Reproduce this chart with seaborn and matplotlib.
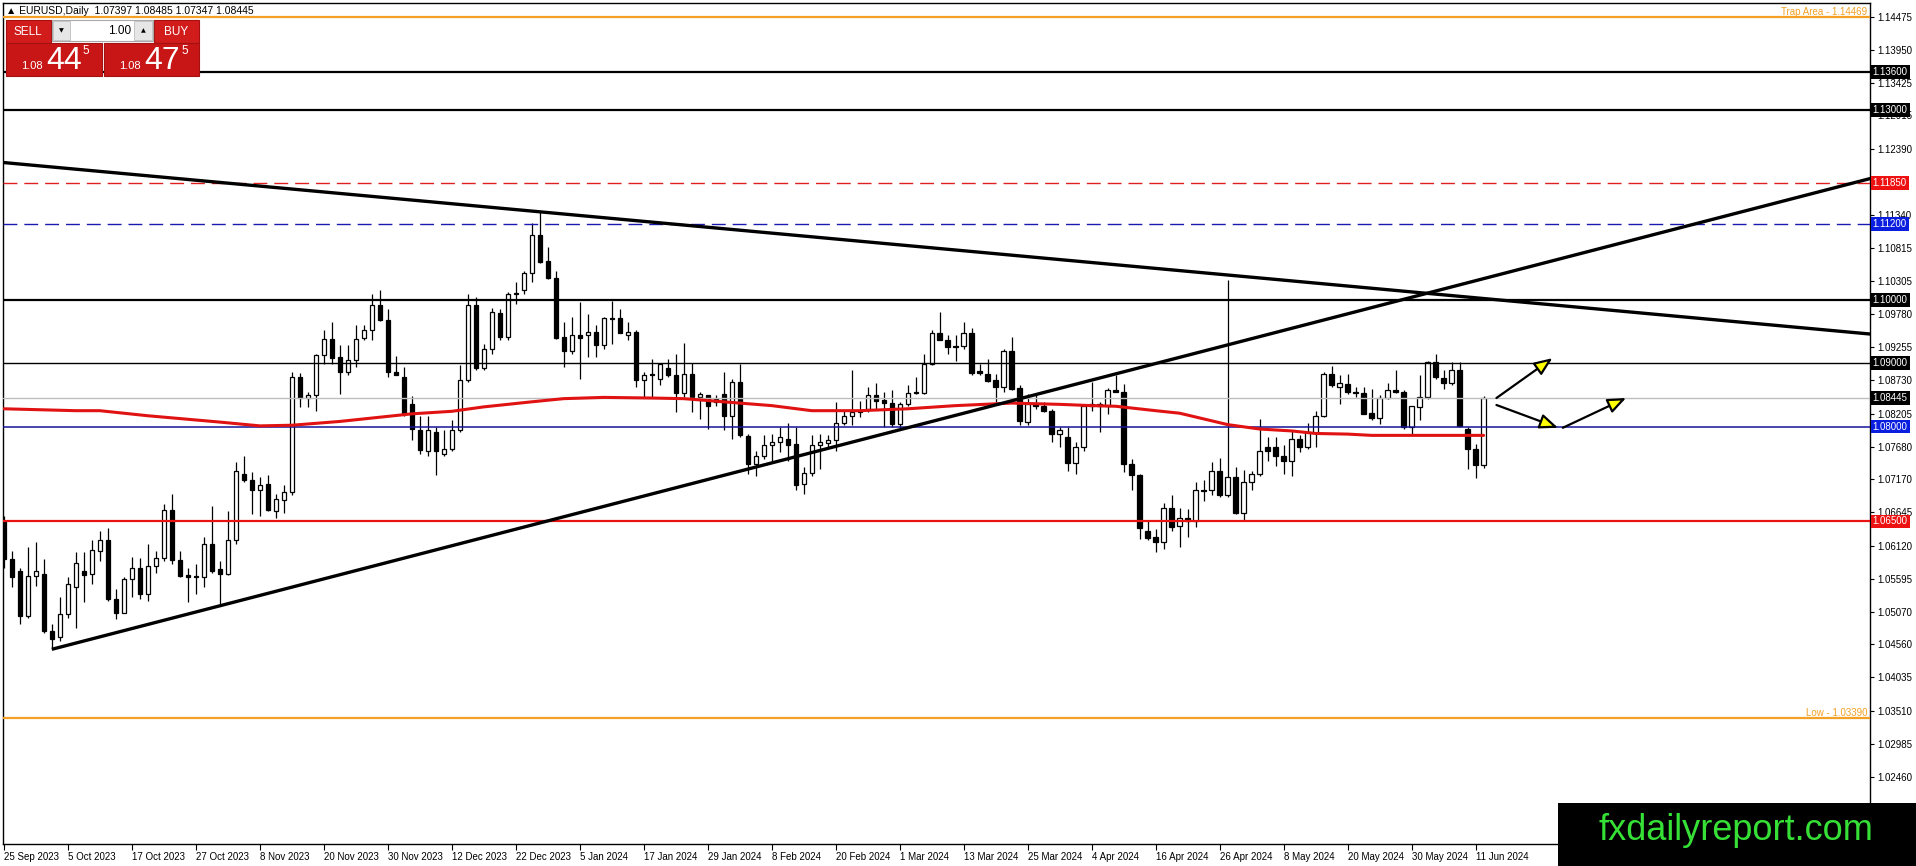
import numpy as np
import pandas as pd
import matplotlib
matplotlib.use("Agg")
import matplotlib.pyplot as plt
import matplotlib.transforms as mtrans
from matplotlib.patches import Rectangle
import seaborn as sns

sns.set_style("white")
plt.rcParams['font.family'] = ['Liberation Sans', 'DejaVu Sans']

# daily candles (25 Sep 2023 .. 12 Jun 2024)
opens = [1.0651, 1.0591, 1.0572, 1.0501, 1.0564, 1.0567, 1.0477, 1.0467, 1.0503, 1.0546,
         1.0572, 1.0567, 1.0604, 1.0620, 1.0527, 1.0506, 1.0559, 1.0577, 1.0535, 1.0580,
         1.0592, 1.0668, 1.0589, 1.0566, 1.0562, 1.0562, 1.0614, 1.0575, 1.0567, 1.0620,
         1.0725, 1.0716, 1.0699, 1.0709, 1.0667, 1.0684, 1.0696, 1.0878, 1.0845, 1.0850,
         1.0913, 1.0939, 1.0910, 1.0886, 1.0905, 1.0940, 1.0953, 1.0992, 1.0969, 1.0886,
         1.0879, 1.0835, 1.0795, 1.0762, 1.0792, 1.0757, 1.0765, 1.0794, 1.0873, 1.0992,
         1.0893, 1.0923, 1.0979, 1.0941, 1.1011, 1.1015, 1.1042, 1.1103, 1.1061, 1.1035,
         1.0941, 1.0920, 1.0944, 1.0944, 1.0950, 1.0929, 1.0972, 1.0971, 1.0945, 1.0950,
         1.0874, 1.0883, 1.0875, 1.0893, 1.0882, 1.0853, 1.0883, 1.0846, 1.0849, 1.0843,
         1.0852, 1.0817, 1.0871, 1.0785, 1.0740, 1.0753, 1.0771, 1.0775, 1.0780, 1.0772,
         1.0709, 1.0726, 1.0771, 1.0774, 1.0778, 1.0805, 1.0817, 1.0825, 1.0828, 1.0849,
         1.0842, 1.0837, 1.0804, 1.0836, 1.0855, 1.0853, 1.0898, 1.0947, 1.0936, 1.0927,
         1.0927, 1.0948, 1.0887, 1.0883, 1.0873, 1.0863, 1.0920, 1.0861, 1.0807, 1.0836,
         1.0832, 1.0825, 1.0788, 1.0783, 1.0742, 1.0767, 1.0835, 1.0835, 1.0832, 1.0858,
         1.0855, 1.0741, 1.0724, 1.0635, 1.0626, 1.0617, 1.0671, 1.0643, 1.0655, 1.0651,
         1.0700, 1.0699, 1.0729, 1.0691, 1.0720, 1.0664, 1.0712, 1.0725, 1.0767, 1.0768,
         1.0754, 1.0746, 1.0780, 1.0768, 1.0789, 1.0817, 1.0883, 1.0863, 1.0867, 1.0855,
         1.0853, 1.0821, 1.0814, 1.0845, 1.0857, 1.0855, 1.0799, 1.0831, 1.0847, 1.0902,
         1.0876, 1.0869, 1.0889, 1.0796, 1.0764, 1.07397]
highs = [1.0659, 1.0604, 1.0577, 1.0609, 1.0617, 1.0591, 1.0488, 1.0530, 1.0562, 1.0601,
         1.0601, 1.0620, 1.0635, 1.0639, 1.0543, 1.0563, 1.0594, 1.0593, 1.0614, 1.0604,
         1.0678, 1.0693, 1.0604, 1.0577, 1.0583, 1.0625, 1.0675, 1.0588, 1.0667, 1.0744,
         1.0754, 1.0728, 1.0720, 1.0724, 1.0693, 1.0707, 1.0886, 1.0884, 1.0854, 1.0915,
         1.0953, 1.0965, 1.0928, 1.0928, 1.0960, 1.0960, 1.1010, 1.1016, 1.0986, 1.0912,
         1.0894, 1.0848, 1.0817, 1.0817, 1.0799, 1.0794, 1.0810, 1.0897, 1.1010, 1.1005,
         1.0931, 1.0988, 1.0986, 1.1013, 1.1029, 1.1046, 1.1122, 1.1139, 1.1084, 1.1046,
         1.0965, 1.0973, 1.0997, 1.0978, 1.0960, 1.0973, 1.0999, 1.0986, 1.0965, 1.0952,
         1.0886, 1.0907, 1.0899, 1.0907, 1.0914, 1.0932, 1.0900, 1.0854, 1.0849, 1.0849,
         1.0886, 1.0875, 1.0899, 1.0788, 1.0762, 1.0786, 1.0788, 1.0799, 1.0805, 1.0799,
         1.0736, 1.0786, 1.0788, 1.0786, 1.0839, 1.0825, 1.0889, 1.0841, 1.0862, 1.0868,
         1.0855, 1.0857, 1.0839, 1.0865, 1.0878, 1.0914, 1.0952, 1.0981, 1.0944, 1.0944,
         1.0965, 1.0955, 1.0899, 1.0906, 1.0883, 1.0923, 1.0942, 1.0865, 1.0852, 1.0849,
         1.0839, 1.0828, 1.0799, 1.0799, 1.0775, 1.0836, 1.0870, 1.0839, 1.0861, 1.0881,
         1.0867, 1.0749, 1.0725, 1.0651, 1.0638, 1.0679, 1.0691, 1.0671, 1.0670, 1.0712,
         1.0715, 1.0744, 1.0751, 1.1031, 1.0736, 1.0731, 1.0730, 1.0812, 1.0783, 1.0783,
         1.0770, 1.0794, 1.0786, 1.0805, 1.0825, 1.0886, 1.0895, 1.0881, 1.0883, 1.0862,
         1.0862, 1.0860, 1.0849, 1.0869, 1.0889, 1.0857, 1.0833, 1.0881, 1.0904, 1.0914,
         1.0889, 1.0902, 1.0902, 1.0799, 1.0773, 1.08485]
lows = [1.0577, 1.0546, 1.0488, 1.0498, 1.0548, 1.0474, 1.0448, 1.0461, 1.0498, 1.0482,
        1.0522, 1.0551, 1.0588, 1.0525, 1.0496, 1.0505, 1.0530, 1.0527, 1.0525, 1.0569,
        1.0588, 1.0583, 1.0563, 1.0522, 1.0535, 1.0546, 1.0569, 1.0519, 1.0566, 1.0614,
        1.0712, 1.0662, 1.0659, 1.0666, 1.0655, 1.0664, 1.0691, 1.0831, 1.0831, 1.0824,
        1.0899, 1.0899, 1.0852, 1.0881, 1.0894, 1.0936, 1.0936, 1.0967, 1.0878, 1.0881,
        1.0817, 1.0778, 1.0757, 1.0754, 1.0724, 1.0754, 1.0762, 1.0791, 1.0870, 1.0890,
        1.0889, 1.0915, 1.0936, 1.0936, 1.0994, 1.1009, 1.1029, 1.1058, 1.1033, 1.0939,
        1.0894, 1.0915, 1.0875, 1.0910, 1.0910, 1.0923, 1.0931, 1.0947, 1.0936, 1.0862,
        1.0846, 1.0846, 1.0865, 1.0878, 1.0823, 1.0846, 1.0823, 1.0812, 1.0796, 1.0833,
        1.0794, 1.0780, 1.0783, 1.0725, 1.0722, 1.0749, 1.0746, 1.0759, 1.0746, 1.0699,
        1.0693, 1.0722, 1.0733, 1.0767, 1.0762, 1.0802, 1.0802, 1.0815, 1.0823, 1.0828,
        1.0799, 1.0799, 1.0796, 1.0833, 1.0852, 1.0852, 1.0897, 1.0936, 1.0915, 1.0904,
        1.0923, 1.0882, 1.0881, 1.0870, 1.0839, 1.0854, 1.0857, 1.0802, 1.0802, 1.0828,
        1.0823, 1.0775, 1.0767, 1.0730, 1.0725, 1.0762, 1.0825, 1.0791, 1.0819, 1.0854,
        1.0728, 1.0699, 1.0622, 1.0620, 1.0601, 1.0606, 1.0635, 1.0610, 1.0625, 1.0641,
        1.0683, 1.0691, 1.0688, 1.0688, 1.0662, 1.0651, 1.0699, 1.0722, 1.0746, 1.0738,
        1.0725, 1.0722, 1.0759, 1.0765, 1.0767, 1.0815, 1.0863, 1.0836, 1.0852, 1.0846,
        1.0819, 1.0811, 1.0804, 1.0844, 1.0853, 1.0796, 1.0788, 1.0810, 1.0844, 1.0875,
        1.0860, 1.0865, 1.0799, 1.0733, 1.0719, 1.07347]
closes = [1.0591, 1.0562, 1.0501, 1.0564, 1.0571, 1.0477, 1.0464, 1.0503, 1.0551, 1.0585,
          1.0566, 1.0605, 1.0620, 1.0527, 1.0506, 1.0559, 1.0576, 1.0535, 1.0580, 1.0592,
          1.0668, 1.0589, 1.0564, 1.0562, 1.0564, 1.0614, 1.0572, 1.0567, 1.0620, 1.0730,
          1.0715, 1.0699, 1.0708, 1.0668, 1.0686, 1.0696, 1.0878, 1.0845, 1.0850, 1.0913,
          1.0939, 1.0908, 1.0886, 1.0905, 1.0939, 1.0952, 1.0992, 1.0968, 1.0886, 1.0882,
          1.0820, 1.0796, 1.0763, 1.0794, 1.0761, 1.0765, 1.0794, 1.0873, 1.0992, 1.0893,
          1.0923, 1.0981, 1.0941, 1.1009, 1.1009, 1.1042, 1.1103, 1.1060, 1.1035, 1.0940,
          1.0920, 1.0944, 1.0940, 1.0949, 1.0929, 1.0972, 1.0970, 1.0948, 1.0950, 1.0874,
          1.0882, 1.0881, 1.0898, 1.0881, 1.0853, 1.0883, 1.0846, 1.0852, 1.0833, 1.0839,
          1.0817, 1.0871, 1.0786, 1.0740, 1.0753, 1.0771, 1.0775, 1.0783, 1.0770, 1.0707,
          1.0726, 1.0771, 1.0775, 1.0779, 1.0805, 1.0817, 1.0823, 1.0823, 1.0849, 1.0841,
          1.0837, 1.0804, 1.0836, 1.0853, 1.0853, 1.0898, 1.0947, 1.0937, 1.0925, 1.0925,
          1.0948, 1.0884, 1.0884, 1.0872, 1.0863, 1.0920, 1.0860, 1.0808, 1.0836, 1.0832,
          1.0825, 1.0788, 1.0794, 1.0742, 1.0767, 1.0833, 1.0832, 1.0832, 1.0857, 1.0855,
          1.0741, 1.0724, 1.0640, 1.0624, 1.0617, 1.0671, 1.0641, 1.0655, 1.0651, 1.0700,
          1.0698, 1.0729, 1.0691, 1.0720, 1.0664, 1.0712, 1.0725, 1.0761, 1.0761, 1.0753,
          1.0746, 1.0780, 1.0768, 1.0791, 1.0817, 1.0883, 1.0865, 1.0868, 1.0854, 1.0853,
          1.0820, 1.0814, 1.0845, 1.0857, 1.0854, 1.0799, 1.0832, 1.0847, 1.0902, 1.0878,
          1.0868, 1.0889, 1.0801, 1.0765, 1.0739, 1.08445]

# moving average read at points along the red curve (bar index, price)
ma_bar = [0, 9, 12, 18, 27, 32, 36, 42, 48, 51, 56, 60, 66, 70, 75, 81, 85, 91, 96, 101,
          107, 113, 119, 126, 132, 136, 139, 144, 147, 150, 153, 157, 161, 164, 168, 171, 177, 185]
ma_val = [1.0828, 1.0825, 1.0825, 1.0817, 1.0807, 1.0801, 1.0802, 1.0808, 1.0816, 1.0820,
          1.0824, 1.0831, 1.0839, 1.0844, 1.0846, 1.0845, 1.0844, 1.0838, 1.0833, 1.0825,
          1.0825, 1.0828, 1.0833, 1.0837, 1.0835, 1.0833, 1.0832, 1.0825, 1.0821, 1.0812,
          1.0803, 1.0796, 1.0793, 1.0789, 1.0788, 1.0786, 1.0786, 1.0786]

date_labels = ['25 Sep 2023', '5 Oct 2023', '17 Oct 2023', '27 Oct 2023', '8 Nov 2023',
               '20 Nov 2023', '30 Nov 2023', '12 Dec 2023', '22 Dec 2023', '5 Jan 2024',
               '17 Jan 2024', '29 Jan 2024', '8 Feb 2024', '20 Feb 2024', '1 Mar 2024',
               '13 Mar 2024', '25 Mar 2024', '4 Apr 2024', '16 Apr 2024', '26 Apr 2024',
               '8 May 2024', '20 May 2024', '30 May 2024', '11 Jun 2024']

price_ticks = [1.14475, 1.13950, 1.13425, 1.12915, 1.12390, 1.11865, 1.11340, 1.10815,
               1.10305, 1.09780, 1.09255, 1.08730, 1.08205, 1.07680, 1.07170, 1.06645,
               1.06120, 1.05595, 1.05070, 1.04560, 1.04035, 1.03510, 1.02985, 1.02460, 1.01935]
# tick labels hidden under a level box on the reference
hidden_ticks = [1.11865]

# horizontal levels
levels = [1.13600, 1.13000, 1.11850, 1.11200, 1.10000, 1.09000, 1.08445, 1.08000, 1.06500]
trap_level = 1.14469
low_level = 1.03390

# trend lines (bar index, price) and arrows
down_trend = [(0, 1.1217), (233.4, 1.0946)]
up_trend = [(6, 1.0448), (233.4, 1.1192)]
arrows = [((186.6, 1.0845), (193.6, 1.0908)),
          ((186.6, 1.0834), (194.3, 1.0798)),
          ((194.9, 1.0798), (202.8, 1.0845))]

# ---- styles
level_style = {
    1.13600: dict(color='black', lw=1.6, ls='-', box='black'),
    1.13000: dict(color='black', lw=1.6, ls='-', box='black'),
    1.11850: dict(color='#e02020', lw=1.0, ls=(0, (10, 5)), box='#ee1111'),
    1.11200: dict(color='#1a1ab0', lw=1.0, ls=(0, (10, 5)), box='#0a1ee0'),
    1.10000: dict(color='black', lw=1.6, ls='-', box='black'),
    1.09000: dict(color='black', lw=1.0, ls='-', box='black'),
    1.08445: dict(color='#bdbdbd', lw=1.0, ls='-', box='black'),
    1.08000: dict(color='#14149a', lw=1.1, ls='-', box='#0a1ee0'),
    1.06500: dict(color='#e81414', lw=1.6, ls='-', box='#ee1111'),
}
ORANGE = '#f4a024'

W, H = 1916, 866
fig = plt.figure(figsize=(W / 100, H / 100), dpi=100)
fig.patch.set_facecolor('white')
ax = fig.add_axes([3 / W, 22 / H, 1867 / W, 841 / H])
ax.set_facecolor('white')

df = pd.DataFrame({'o': opens, 'h': highs, 'l': lows, 'c': closes})
df['i'] = np.arange(len(df))
up = df['c'] >= df['o']

# candles
ax.vlines(df['i'], df['l'], df['h'], color='black', lw=0.9, zorder=2)
ax.bar(df['i'][up], (df['c'] - df['o'])[up], bottom=df['o'][up], width=0.55,
       color='white', edgecolor='black', linewidth=0.9, zorder=3)
ax.bar(df['i'][~up], (df['o'] - df['c'])[~up], bottom=df['c'][~up], width=0.55,
       color='black', edgecolor='black', linewidth=0.9, zorder=3)

# levels
for lv in levels:
    st = level_style[lv]
    ax.axhline(lv, color=st['color'], lw=st['lw'], ls=st['ls'], zorder=4)
ax.axhline(trap_level, color=ORANGE, lw=1.6, zorder=4)
ax.axhline(low_level, color=ORANGE, lw=1.6, zorder=4)

# moving average
sns.lineplot(x=ma_bar, y=ma_val, color='#e01212', lw=2.2, ax=ax, zorder=5)

# trend lines
for seg in (down_trend, up_trend):
    ax.plot([seg[0][0], seg[1][0]], [seg[0][1], seg[1][1]], color='black', lw=2.4,
            solid_capstyle='butt', zorder=6)

for (x0, y0), (x1, y1) in arrows:
    ax.annotate('', xy=(x1, y1), xytext=(x0, y0),
                arrowprops=dict(arrowstyle='-|>,head_length=1.1,head_width=0.45',
                                fc='#ffff00', ec='black', lw=1.6, shrinkA=0, shrinkB=0),
                zorder=7)

ax.set_xlim(-0.1, 233.3)
ax.set_ylim(1.01404, 1.14691)

# axes / ticks
for s in ax.spines.values():
    s.set_color('black')
    s.set_linewidth(1.0)
ax.yaxis.tick_right()
ax.set_yticks(price_ticks)
ax.set_yticklabels(['' if v in hidden_ticks else f'{v:.5f}' for v in price_ticks])
ax.set_xticks(range(0, 8 * len(date_labels), 8))
ax.set_xticklabels(date_labels)
for t in ax.get_xticklabels():
    t.set_ha('left')
ax.tick_params(axis='y', direction='out', length=3, width=0.8, labelsize=7, pad=2,
               colors='black', right=True, left=False)
ax.tick_params(axis='x', direction='out', length=4, width=0.8, labelsize=7, pad=2,
               colors='black', bottom=True)
ax.set_xlabel('')
ax.set_ylabel('')

# price boxes on the right scale
blend = mtrans.blended_transform_factory(ax.transAxes, ax.transData)
for lv in levels:
    ax.text(1.0015, lv, f'{lv:.5f}', transform=blend, color='white', fontsize=7,
            ha='left', va='center', clip_on=False, zorder=8,
            bbox=dict(boxstyle='square,pad=0.2', fc=level_style[lv]['box'], ec='none'))

ax.text(233.0, trap_level, 'Trap Area - 1.14469', color=ORANGE, fontsize=7,
        ha='right', va='bottom', zorder=8)
ax.text(233.0, low_level, 'Low - 1.03390', color=ORANGE, fontsize=7,
        ha='right', va='bottom', zorder=8)

# overlay in pixel coordinates for the header, trade panel and watermark
ov = fig.add_axes([0, 0, 1, 1], zorder=10)
ov.set_xlim(0, W)
ov.set_ylim(H, 0)
ov.axis('off')
ov.patch.set_alpha(0)

ov.text(6, 11, '\u25b2 EURUSD,Daily  1.07397 1.08485 1.07347 1.08445', fontsize=7.5,
        va='center', ha='left', color='black')

RED = '#d21c1c'
ov.add_patch(Rectangle((6, 20), 45, 23, fc=RED, ec='#a51010', lw=0.8))
ov.add_patch(Rectangle((154, 20), 45, 23, fc=RED, ec='#a51010', lw=0.8))
ov.add_patch(Rectangle((52, 20), 101, 21, fc='white', ec='#a8a8a8', lw=0.8))
ov.add_patch(Rectangle((53, 21), 17, 19, fc='#e6e6e6', ec='#bdbdbd', lw=0.6))
ov.add_patch(Rectangle((134, 21), 18, 19, fc='#e6e6e6', ec='#bdbdbd', lw=0.6))
ov.add_patch(Rectangle((6, 43), 96, 33, fc='#c81616', ec='#a51010', lw=0.8))
ov.add_patch(Rectangle((104, 43), 95, 33, fc='#c81616', ec='#a51010', lw=0.8))
ov.text(28, 32, 'SELL', color='white', fontsize=8.5, ha='center', va='center')
ov.text(176, 32, 'BUY', color='white', fontsize=8.5, ha='center', va='center')
ov.text(131, 31, '1.00', color='black', fontsize=8.5, ha='right', va='center')
ov.text(61, 31, '\u25bc', color='black', fontsize=4.5, ha='center', va='center',
        family=['DejaVu Sans'])
ov.text(143, 31, '\u25b2', color='black', fontsize=4.5, ha='center', va='center',
        family=['DejaVu Sans'])
for x_small, x_big, x_sup, big in ((32, 64, 86, '44'), (130, 162, 185, '47')):
    ov.text(x_small, 66, '1.08', color='white', fontsize=8, ha='center', va='center')
    ov.text(x_big, 61, big, color='white', fontsize=23, ha='center', va='center')
    ov.text(x_sup, 51, '5', color='white', fontsize=8.5, ha='center', va='center')

ov.add_patch(Rectangle((1558, 803), W - 1558, H - 803, fc='black', ec='none'))
ov.text(1736, 831, 'fxdailyreport.com', color='#36e036', fontsize=26,
        ha='center', va='center')

fig.savefig('out.png', dpi=100, facecolor='white')
